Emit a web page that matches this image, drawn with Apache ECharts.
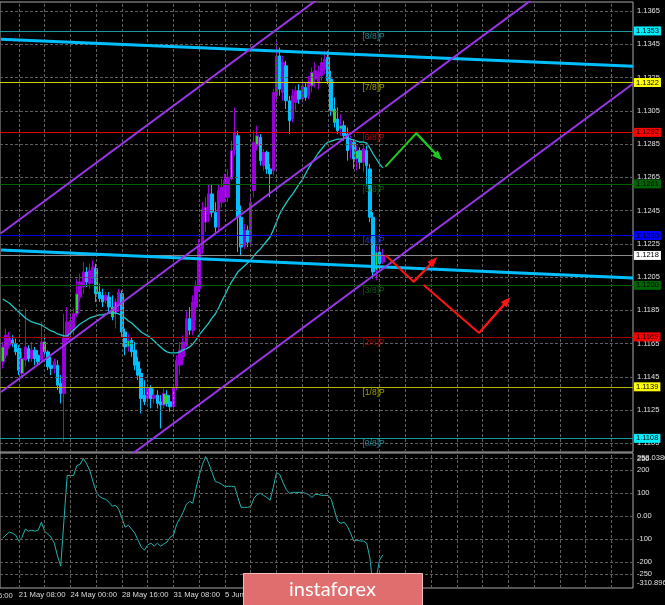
<!DOCTYPE html>
<html><head><meta charset="utf-8">
<script src="https://cdn.jsdelivr.net/npm/echarts/dist/echarts.min.js"></script>
<style>html,body{margin:0;padding:0;background:#000;}#c{width:665px;height:605px;}</style>
</head><body><div id="c"></div>
<script>
// ---------- DATA ----------
const opens = [
1.1154,1.1158,1.1164,1.1167,1.1165,1.1162,1.1147,1.1155,1.1162,1.1156,
1.1161,1.1158,1.1155,1.1166,1.1160,1.1152,1.1150,1.1152,1.1141,1.1135,
1.1167,1.1172,1.1173,1.1183,1.1193,1.1199,1.1208,1.1201,1.1204,1.1210,
1.1196,1.1194,1.1191,1.1193,1.1187,1.1183,1.1188,1.1195,1.1172,1.1163,
1.1167,1.1161,1.1154,1.1147,1.1134,1.1132,1.1138,1.1132,1.1134,1.1130,
1.1128,1.1134,1.1130,1.1127,1.1139,1.1152,1.1157,1.1164,1.1180,1.1173,
1.1187,1.1198,1.1222,1.1238,1.1243,1.1255,1.1244,1.1235,1.1250,1.1253,
1.1253,1.1264,1.1281,1.1290,1.1241,1.1224,1.1233,1.1226,1.1257,1.1284,
1.1289,1.1272,1.1280,1.1270,1.1269,1.1314,1.1338,1.1316,1.1332,1.1311,
1.1300,1.1310,1.1317,1.1312,1.1319,1.1314,1.1320,1.1324,1.1322,1.1326,
1.1330,1.1337,1.1324,1.1306,1.1300,1.1294,1.1296,1.1291,1.1282,1.1286,
1.1276,1.1281,1.1274,1.1281,1.1270,1.1241,1.1209,1.1220,1.1214];
const closes = [
1.1163,1.1170,1.1169,1.1165,1.1160,1.1149,1.1156,1.1163,1.1156,1.1161,
1.1156,1.1154,1.1166,1.1160,1.1151,1.1150,1.1154,1.1140,1.1135,1.1169,
1.1178,1.1179,1.1183,1.1195,1.1202,1.1208,1.1202,1.1209,1.1211,1.1195,
1.1192,1.1190,1.1194,1.1187,1.1181,1.1190,1.1196,1.1172,1.1163,1.1167,
1.1160,1.1152,1.1146,1.1132,1.1130,1.1138,1.1132,1.1134,1.1129,1.1128,
1.1135,1.1129,1.1127,1.1138,1.1155,1.1161,1.1166,1.1180,1.1173,1.1190,
1.1200,1.1223,1.1246,1.1247,1.1255,1.1244,1.1235,1.1257,1.1259,1.1263,
1.1265,1.1281,1.1292,1.1241,1.1223,1.1233,1.1226,1.1250,1.1286,1.1290,
1.1275,1.1280,1.1270,1.1267,1.1316,1.1338,1.1318,1.1334,1.1311,1.1299,
1.1314,1.1317,1.1312,1.1320,1.1313,1.1322,1.1328,1.1329,1.1328,1.1334,
1.1336,1.1323,1.1305,1.1298,1.1293,1.1296,1.1290,1.1281,1.1287,1.1276,
1.1281,1.1274,1.1282,1.1272,1.1241,1.1208,1.1220,1.1213,1.1218];
const highs = [
1.1166,1.1174,1.1172,1.1170,1.1168,1.1164,1.1160,1.1186,1.1164,1.1166,
1.1163,1.1161,1.1178,1.1169,1.1161,1.1157,1.1156,1.1155,1.1146,1.1183,
1.1187,1.1183,1.1186,1.1204,1.1207,1.1214,1.1211,1.1213,1.1215,1.1213,
1.1201,1.1198,1.1196,1.1196,1.1194,1.1192,1.1198,1.1197,1.1174,1.1171,
1.1169,1.1166,1.1157,1.1150,1.1143,1.1141,1.1140,1.1138,1.1137,1.1134,
1.1138,1.1137,1.1134,1.1141,1.1158,1.1166,1.1170,1.1185,1.1187,1.1194,
1.1203,1.1228,1.1250,1.1253,1.1261,1.1261,1.1250,1.1261,1.1264,1.1267,
1.1270,1.1287,1.1307,1.1293,1.1248,1.1237,1.1236,1.1253,1.1293,1.1296,
1.1291,1.1282,1.1281,1.1273,1.1318,1.1346,1.1343,1.1338,1.1335,1.1314,
1.1318,1.1320,1.1321,1.1323,1.1322,1.1326,1.1331,1.1334,1.1332,1.1337,
1.1341,1.1341,1.1329,1.1313,1.1307,1.1303,1.1299,1.1295,1.1290,1.1288,
1.1284,1.1283,1.1285,1.1284,1.1273,1.1244,1.1224,1.1223,1.1222];
const lows = [
1.1150,1.1156,1.1162,1.1163,1.1158,1.1146,1.1144,1.1151,1.1154,1.1154,
1.1152,1.1152,1.1154,1.1158,1.1149,1.1146,1.1147,1.1137,1.1129,1.1106,
1.1164,1.1168,1.1170,1.1181,1.1190,1.1195,1.1199,1.1198,1.1201,1.1190,
1.1190,1.1187,1.1189,1.1184,1.1179,1.1174,1.1184,1.1169,1.1158,1.1160,
1.1157,1.1149,1.1143,1.1123,1.1128,1.1129,1.1126,1.1129,1.1126,1.1114,
1.1126,1.1127,1.1124,1.1124,1.1137,1.1146,1.1152,1.1163,1.1170,1.1170,
1.1179,1.1196,1.1219,1.1232,1.1238,1.1241,1.1231,1.1233,1.1247,1.1250,
1.1250,1.1263,1.1278,1.1220,1.1218,1.1222,1.1223,1.1223,1.1253,1.1281,
1.1272,1.1269,1.1267,1.1253,1.1266,1.1311,1.1314,1.1311,1.1306,1.1291,
1.1298,1.1305,1.1309,1.1310,1.1311,1.1312,1.1316,1.1319,1.1318,1.1323,
1.1327,1.1321,1.1302,1.1295,1.1291,1.1290,1.1287,1.1275,1.1276,1.1270,
1.1269,1.1270,1.1268,1.1260,1.1238,1.1204,1.1203,1.1209,1.1213];
const greenBodyBars = [0,6,13,23,29,34,35,39,45,50,51,53,63,66,71,79,86,89,96,103,105,110,111,116];

const maValues = [
1.11918,1.11906,1.11894,1.11876,1.11858,1.11840,1.11822,1.11804,1.11792,1.11780,
1.11774,1.11768,1.11762,1.11750,1.11738,1.11726,1.11720,1.11708,1.11702,1.11696,
1.11696,1.11714,1.11732,1.11750,1.11768,1.11780,1.11792,1.11804,1.11810,1.11816,
1.11822,1.11822,1.11828,1.11834,1.11834,1.11834,1.11828,1.11816,1.11804,1.11786,
1.11774,1.11756,1.11738,1.11720,1.11708,1.11696,1.11684,1.11666,1.11648,1.11630,
1.11612,1.11600,1.11594,1.11594,1.11594,1.11600,1.11612,1.11618,1.11630,1.11648,
1.11672,1.11702,1.11726,1.11750,1.11774,1.11804,1.11828,1.11864,1.11906,1.11942,
1.11984,1.12020,1.12050,1.12081,1.12099,1.12117,1.12135,1.12153,1.12177,1.12201,
1.12219,1.12243,1.12267,1.12291,1.12333,1.12381,1.12429,1.12465,1.12495,1.12525,
1.12549,1.12579,1.12609,1.12634,1.12670,1.12706,1.12736,1.12766,1.12796,1.12820,
1.12844,1.12862,1.12868,1.12874,1.12880,1.12880,1.12886,1.12886,1.12880,1.12874,
1.12868,1.12862,1.12862,1.12856,1.12826,1.12790,1.12760,1.12730,1.12706];

const cciValues = [
-95,-82,-69,-74,-82,-108,-91,-56,-65,-61,
-65,-61,-26,-65,-78,-91,-117,-173,-216,-18,
176,176,176,219,224,250,228,198,150,107,
86,77,73,60,43,47,30,-9,-48,-39,
-56,-74,-104,-134,-147,-125,-117,-130,-117,-130,
-121,-112,-91,-82,-35,-9,17,51,64,56,
120,176,224,258.04,228,189,150,146,138,129,
129,129,129,81,38,38,38,43,77,94,
99,90,81,69,125,189,181,146,116,99,
103,103,103,103,99,94,81,94,94,90,
90,90,73,25,-22,-31,-26,-44,-74,-108,
-104,-108,-108,-117,-181,-310.9,-265,-190,-168];

const priceTicks = [1.1365,1.1345,1.1325,1.1305,1.1285,1.1265,1.1245,1.1225,1.1205,1.1185,1.1165,1.1145,1.1125,1.1105];
const murreyLevels = [1.1353,1.1322,1.1292,1.1261,1.1230,1.1200,1.1169,1.1139,1.1108];
const murreyNames = ['[8/8]P','[7/8]P','[6/8]P','[5/8]P','[4/8]P','[3/8]P','[2/8]P','[1/8]P','[0/8]P'];
const lastPrice = 1.1218;
const cciLevels = [250,200,100,0,-100,-200,-250];
const cciLevelLabels = ['250','200','100','0.00','-100','-200','-250'];
const cciScaleMax = 258.0386, cciScaleMin = -310.896;
const gridBars = [5,13,21,29,37,45,53,61,69,77,85,93,101,109,117,125,133,141,149,157,165,173,181,189];
const dateLabelBars = [5,21,37,53,69,85,101];
const dateLabels = ['21 May 08:00','24 May 00:00','28 May 16:00','31 May 08:00','5 Jun 00:00','7 Jun 16:00','12 Jun 08:00'];

const blueTrendLines = [
  [[-0.55,1.13480],[195.7,1.13317]],
  [[-0.55,1.12213],[195.7,1.12044]]
];
const purpleChannel = [
  [[-0.55,1.12313],[195.7,1.15123]],
  [[-0.55,1.11359],[195.7,1.14168]],
  [[-0.55,1.10403],[195.7,1.13212]]
];
const greenArrow = [[118.8,1.12714],[128.4,1.12915],[135.3,1.12774]];
const redArrow1 = [[118.8,1.12183],[127.6,1.12022],[133.8,1.12147]];
const redArrow2 = [[130.7,1.12002],[147.9,1.11714],[156.6,1.11906]];

// ---------- STYLE / LAYOUT ----------
const FONT = '"Liberation Sans", Arial, sans-serif';
const X_MIN = -0.86, X_MAX = 195.70;
const Y_MIN = 1.10998, Y_MAX = 1.13704;
const C_MIN = -311.3, C_MAX = 273.6;
const LABEL_BAR = 111.7;
const levelStyles = [
 {line:'#149c9c', box:'#00f0ff', text:'#2aa8b4'},
 {line:'#d2d200', box:'#ffff00', text:'#c8c400'},
 {line:'#e00000', box:'#ff0000', text:'#dd1010'},
 {line:'#006400', box:'#006400', text:'#137013'},
 {line:'#0000e6', box:'#0000ff', text:'#2848ff'},
 {line:'#005c00', box:'#006400', text:'#137013'},
 {line:'#a00000', box:'#ff0000', text:'#c00000'},
 {line:'#b4b400', box:'#ffff00', text:'#c8c400'},
 {line:'#149c9c', box:'#00f0ff', text:'#2aa8b4'}
];
const UP = '#9900dd', DOWN = '#00bfff', GREEN = '#2fd82f';
const HIDDEN = 'rgba(0,0,0,0)';

const candleData = opens.map((o, i) => {
  const item = {value: [i, o, closes[i], lows[i], highs[i]]};
  if (greenBodyBars.indexOf(i) >= 0) item.itemStyle = {color: GREEN, color0: GREEN};
  return item;
});

const gridDash = {color:'#5e5e5e', type:[3,2], width:1};
const tickLabel = {show:true, position:'end', distance:4, color:'#e0e0e0', fontSize:7.5, fontFamily:FONT};

function arrowSeries(pts, color) {
  const n = pts.length;
  return {
    type:'line', xAxisIndex:0, yAxisIndex:0, z:8, symbol:'none',
    data: pts, lineStyle:{color:color, width:2},
    markLine: {
      silent:true, animation:false, precision:5,
      lineStyle:{color:color, width:2, type:'solid'},
      label:{show:false},
      data:[[{coord:pts[n-2], symbol:'none'},{coord:pts[n-1], symbol:'triangle', symbolSize:[8,10]}]]
    }
  };
}

const series = [
  {type:'line', xAxisIndex:0, yAxisIndex:0, data:[], z:1, silent:true,
   markLine:{silent:true, animation:false, symbol:['none','none'], precision:5,
     lineStyle:gridDash, label:tickLabel,
     data:[...priceTicks.map(v => ({yAxis:v, label:{formatter:v.toFixed(4)}})),
           ...gridBars.map(b => ({xAxis:b, label:{show:false}}))]}},
  {type:'candlestick', xAxisIndex:0, yAxisIndex:0, z:3, barWidth:3,
   itemStyle:{color:UP, color0:DOWN, borderColor:UP, borderColor0:DOWN, borderWidth:1},
   data:candleData},
  {type:'line', xAxisIndex:0, yAxisIndex:0, z:4, symbol:'none',
   data: maValues.map((v,i) => [i, v]), lineStyle:{color:'#1ec8c8', width:1.3}},
  {type:'line', xAxisIndex:0, yAxisIndex:0, data:[], z:5, silent:true,
   markLine:{silent:true, animation:false, symbol:['none','none'], precision:5,
     label:{show:true, position:'end', distance:1, fontSize:7.5, fontFamily:FONT, color:'#000', padding:[1,2,0,2]},
     data:[...murreyLevels.map((v,k) => ({yAxis:v,
              lineStyle:{color:levelStyles[k].line, width:1.2, type:'solid'},
              label:{formatter:v.toFixed(4), backgroundColor:levelStyles[k].box}})),
           {yAxis:lastPrice, lineStyle:{color:'#8c8c8c', width:1, type:'solid'},
            label:{formatter:lastPrice.toFixed(4), backgroundColor:'#ffffff'}}]}},
  {type:'scatter', xAxisIndex:0, yAxisIndex:0, z:6, symbolSize:0, silent:true,
   data: murreyLevels.map((v,k) => ({value:[LABEL_BAR, v],
     label:{show:true, position:'right', distance:0, offset:[0,5.5], formatter:murreyNames[k],
            color:levelStyles[k].text, fontSize:8.5, fontFamily:FONT}}))},
  ...blueTrendLines.map(l => ({type:'line', xAxisIndex:0, yAxisIndex:0, z:7, symbol:'none',
     data:l, lineStyle:{color:'#00bfff', width:3}})),
  ...purpleChannel.map(l => ({type:'line', xAxisIndex:0, yAxisIndex:0, z:7, symbol:'none',
     data:l, lineStyle:{color:'#9a35e8', width:2}})),
  arrowSeries(greenArrow, '#1ec81e'),
  arrowSeries(redArrow1, '#ff1414'),
  arrowSeries(redArrow2, '#ff1414'),
  {type:'line', xAxisIndex:1, yAxisIndex:1, data:[], z:1, silent:true,
   markLine:{silent:true, animation:false, symbol:['none','none'], precision:4,
     lineStyle:gridDash, label:tickLabel,
     data:[...cciLevels.map((v,k) => ({yAxis:v, label:{formatter:cciLevelLabels[k]}})),
           ...gridBars.map(b => ({xAxis:b, label:{show:false}}))]}},
  {type:'line', xAxisIndex:1, yAxisIndex:1, data:[], z:2, silent:true,
   markLine:{silent:true, animation:false, symbol:['none','none'], precision:4,
     lineStyle:{color:HIDDEN, width:1, type:'solid'}, label:tickLabel,
     data:[{yAxis:cciScaleMax, label:{formatter:String(cciScaleMax), offset:[0,1]}},
           {yAxis:cciScaleMin, label:{formatter:String(cciScaleMin), offset:[0,-5]}}]}},
  {type:'line', xAxisIndex:1, yAxisIndex:1, z:4, symbol:'none',
   data: cciValues.map((v,i) => [i, v]), lineStyle:{color:'#20b4b0', width:1}}
];

const chart = echarts.init(document.getElementById('c'));
chart.setOption({
  backgroundColor:'#000',
  animation:false,
  grid:[
    {left:-1, top:2, width:634, height:450, show:true, borderColor:'#a8a8a8', borderWidth:1, backgroundColor:'#000'},
    {left:-1, top:453, width:634, height:135, show:true, borderColor:'#a8a8a8', borderWidth:1, backgroundColor:'#000'}
  ],
  xAxis:[
    {gridIndex:0, type:'value', min:X_MIN, max:X_MAX, show:false},
    {gridIndex:1, type:'value', min:X_MIN, max:X_MAX,
     axisLine:{show:false}, axisTick:{show:false}, splitLine:{show:false},
     axisLabel:{show:true, customValues:dateLabelBars, align:'left', margin:3,
       color:'#dcdcdc', fontSize:7.7, fontFamily:FONT,
       formatter:function(v){ const k = dateLabelBars.indexOf(Math.round(v)); return (k >= 0 && Math.abs(v - dateLabelBars[k]) < 1e-6) ? dateLabels[k] : ''; }}}
  ],
  yAxis:[
    {gridIndex:0, type:'value', min:Y_MIN, max:Y_MAX, show:false},
    {gridIndex:1, type:'value', min:C_MIN, max:C_MAX, show:false}
  ],
  graphic:[
    {type:'text', x:-33.7, y:595.5, silent:true,
     style:{text:'16 May 16:00', fill:'#dcdcdc', font:'7.7px ' + FONT, verticalAlign:'middle'}},
    {type:'rect', z:100, silent:true, shape:{x:243.5, y:573.5, width:179, height:34},
     style:{fill:'#e06e6e', stroke:'#f4bcbc', lineWidth:1}},
    {type:'text', z:101, silent:true, x:289, y:590,
     style:{text:'instaforex', fill:'#ffffff', font:'20px Lato, "Open Sans", sans-serif', verticalAlign:'middle'}}
  ],
  series: series
});
</script></body></html>
